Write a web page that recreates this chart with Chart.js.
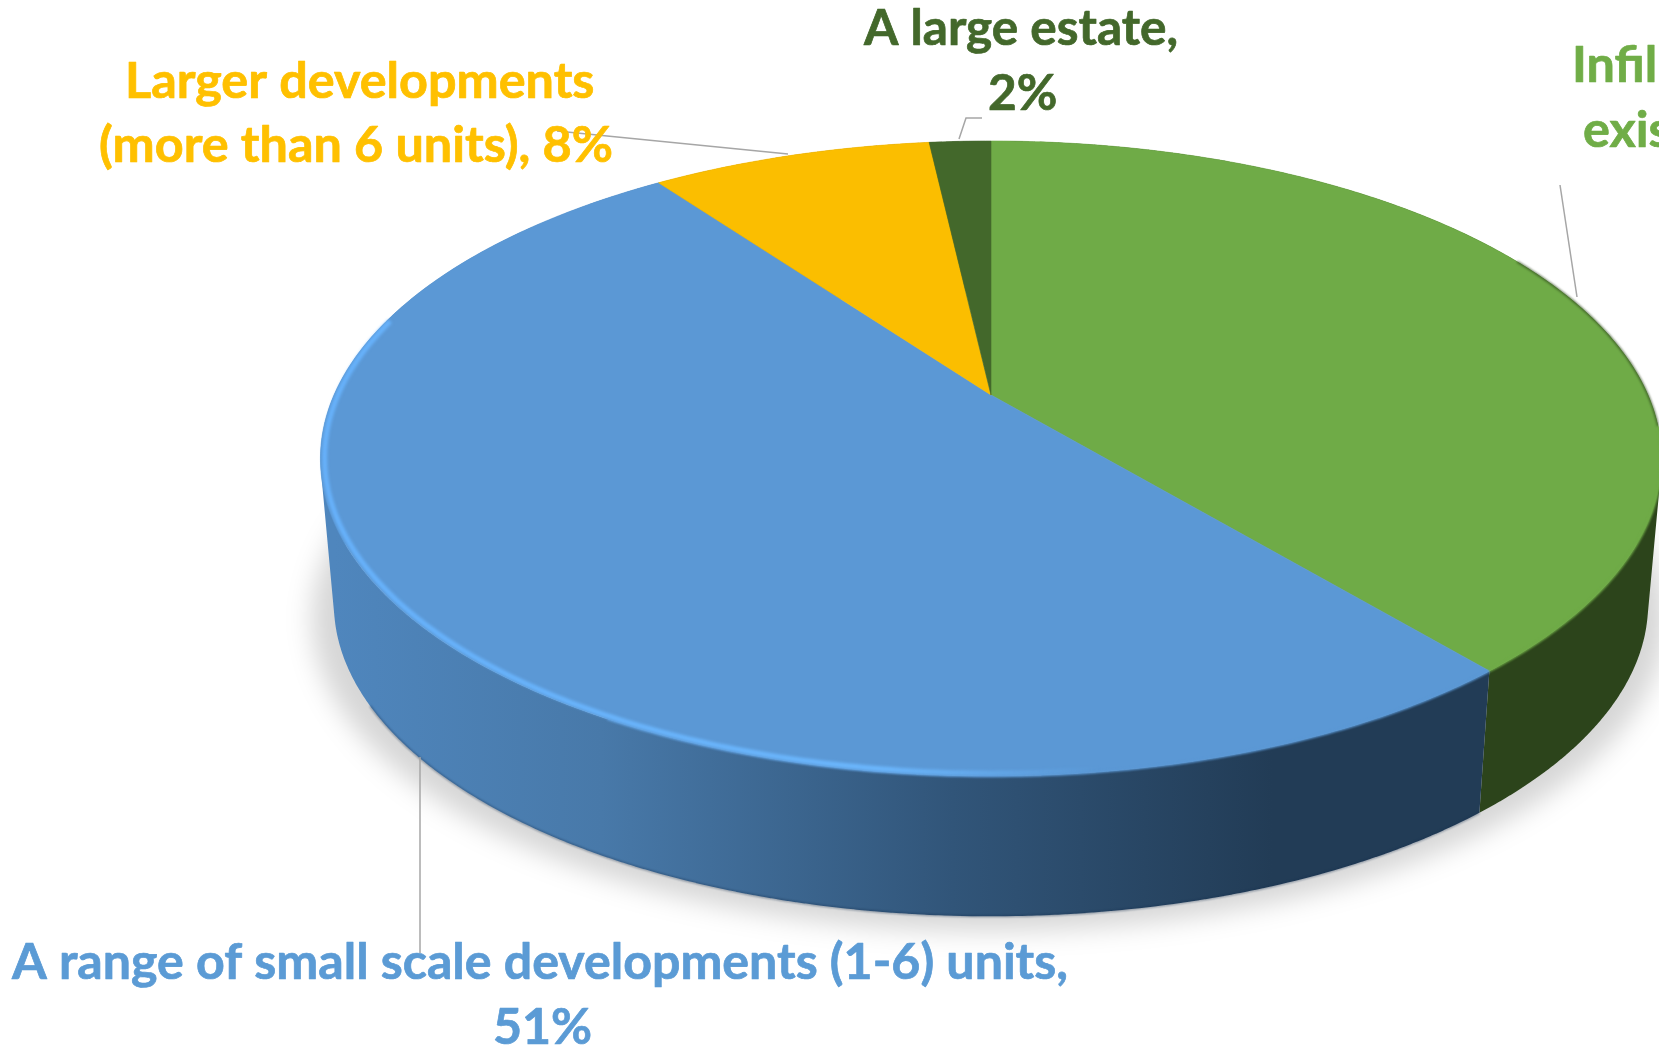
<!DOCTYPE html>
<html>
<head>
<meta charset="utf-8">
<style>html,body{margin:0;padding:0;background:#fff;overflow:hidden}canvas{display:block}</style>
<script src="https://cdn.jsdelivr.net/npm/chart.js@4"></script>
</head>
<body>
<canvas id="c" width="1659" height="1050"></canvas>
<script>
const categories = ['Infill within existing', 'A range of small scale developments (1-6) units', 'Larger developments (more than 6 units)', 'A large estate'];
const percentValues = [38.9, 51.1, 8.2, 1.8];
const topColours = ['#6FAB47', '#5B98D5', '#FBBE00', '#43682B'];
const labelColours = ['#70AD47', '#5B9BD5', '#FFC000', '#43682B'];
const labelLine1 = ['Infill within', 'A range of small scale developments (1-6) units,', 'Larger developments', 'A large estate,'];
const labelLine2 = ['existing, ', '', '(more than 6 units), ', ''];

// Projection of the tilted disc
const P = {cx: 991, A: 657, y0: 395, a: 304.8, k: -0.2, s: 0.98, sy: 0.985, Y0: 541};
function topPt(t, r = 1) {
  const u = r * Math.cos(t), v = r * Math.sin(t), d = 1 + P.k * v;
  return [P.cx + P.A * u / d, P.y0 + P.a * v / d];
}
function botPt(t) {
  const u = Math.cos(t), v = Math.sin(t), d = 1 + P.k * v;
  return [P.cx + P.s * P.A * u / d, P.Y0 + P.sy * P.a * v / d];
}
function rim(ctx, fn, a, b, move) {
  const n = Math.max(8, Math.ceil(Math.abs(b - a) * 90));
  for (let i = 0; i <= n; i++) {
    const p = fn(a + (b - a) * i / n);
    if (i === 0 && move) ctx.moveTo(p[0], p[1]); else ctx.lineTo(p[0], p[1]);
  }
}

const pie3d = {
  id: 'pie3d',
  beforeDatasetDraw(chart, args) {
    const ctx = chart.ctx, arcs = chart.getDatasetMeta(args.index).data;
    ctx.save();
    // soft ground shadow
    ctx.save();
    ctx.filter = 'blur(13px)';
    ctx.fillStyle = 'rgba(0,0,0,0.16)';
    ctx.beginPath();
    const full = Math.PI * 2;
    const n = 200;
    for (let i = 0; i <= n; i++) {
      const p = botPt(full * i / n);
      const x = P.cx + (p[0] - P.cx) * 1.03 - 2;
      const y = p[1] + 15;
      i ? ctx.lineTo(x, y) : ctx.moveTo(x, y);
    }
    ctx.closePath();
    ctx.fill();
    ctx.restore();

    // side wall, as quads so the silhouette between the rims is filled
    const blueWall = ctx.createLinearGradient(335, 0, 1400, 0);
    blueWall.addColorStop(0, '#4F86BD');
    blueWall.addColorStop(0.25, '#4879A9');
    blueWall.addColorStop(0.58, '#315579');
    blueWall.addColorStop(0.88, '#223C56');
    blueWall.addColorStop(1, '#223C56');
    const wallFills = ['#2C441B', blueWall, '#A07A00', '#2C441B'];
    [3, 2, 0, 1].forEach(i => {
      const arc = arcs[i];
      const steps = Math.ceil((arc.endAngle - arc.startAngle) * 90);
      const da = (arc.endAngle - arc.startAngle) / steps;
      ctx.fillStyle = wallFills[i];
      ctx.beginPath();
      for (let s = 0; s < steps; s++) {
        const t0 = arc.startAngle + s * da;
        const t1 = s === steps - 1 ? arc.endAngle : t0 + da * 1.25;
        const a = topPt(t0), b = topPt(t1), c = botPt(t1), e = botPt(t0);
        const orient = (b[0]-a[0])*(c[1]-a[1]) - (b[1]-a[1])*(c[0]-a[0]);
        ctx.moveTo(a[0], a[1]);
        if (orient >= 0) { ctx.lineTo(b[0], b[1]); ctx.lineTo(c[0], c[1]); ctx.lineTo(e[0], e[1]); }
        else { ctx.lineTo(e[0], e[1]); ctx.lineTo(c[0], c[1]); ctx.lineTo(b[0], b[1]); }
        ctx.closePath();
      }
      ctx.fill();
    });

    // darker soft line under the front of the wall
    ctx.save();
    ctx.filter = 'blur(0.8px)';
    ctx.strokeStyle = 'rgba(22,48,78,0.55)';
    ctx.lineWidth = 1.6;
    ctx.beginPath();
    rim(ctx, botPt, arcs[1].startAngle, arcs[1].startAngle + 1.75, true);
    ctx.stroke();
    ctx.restore();

    // top face
    const c0 = topPt(0, 0);
    arcs.forEach((arc, i) => {
      ctx.beginPath();
      ctx.moveTo(c0[0], c0[1]);
      rim(ctx, topPt, arc.startAngle, arc.endAngle, false);
      ctx.closePath();
      ctx.fillStyle = topColours[i];
      ctx.strokeStyle = topColours[i];
      ctx.lineWidth = 0.6;
      ctx.fill();
      ctx.stroke();
    });

    // soft edge on the front rim
    ctx.save();
    ctx.filter = 'blur(1.3px)';
    ctx.lineWidth = 2.5;
    ctx.strokeStyle = topColours[1];
    ctx.beginPath();
    rim(ctx, topPt, arcs[1].startAngle, arcs[1].startAngle + 1.2, true);
    ctx.stroke();
    ctx.strokeStyle = topColours[0];
    ctx.beginPath();
    rim(ctx, topPt, 0.1, arcs[0].endAngle, true);
    ctx.stroke();
    ctx.restore();

    // pale bevel on the left of the front rim
    const hl = ctx.createLinearGradient(320, 0, 1100, 0);
    hl.addColorStop(0, 'rgba(104,180,255,0.9)');
    hl.addColorStop(0.72, 'rgba(108,184,255,0.95)');
    hl.addColorStop(1, 'rgba(108,184,255,0)');
    ctx.save();
    ctx.filter = 'blur(1.6px)';
    ctx.strokeStyle = hl;
    ctx.lineWidth = 5;
    ctx.beginPath();
    rim(ctx, t => topPt(t, 0.994), 1.35, 3.4, true);
    ctx.stroke();
    ctx.restore();

    // dark soft line on the green rim
    ctx.save();
    ctx.filter = 'blur(1px)';
    ctx.strokeStyle = 'rgba(44,68,27,0.7)';
    ctx.lineWidth = 2;
    ctx.beginPath();
    rim(ctx, t => topPt(t, 1), -0.5, 0.1, true);
    ctx.stroke();
    ctx.restore();

    ctx.restore();
    return false;
  },
  afterDraw(chart) {
    const ctx = chart.ctx;
    ctx.save();
    // leader lines
    ctx.strokeStyle = '#A6A6A6';
    ctx.lineWidth = 1.5;
    [[[1560, 185], [1577, 297]], [[420, 757], [420, 953]], [[557, 131], [788, 154]], [[959, 139], [966, 118], [982, 118]]].forEach(pts => {
      ctx.beginPath();
      pts.forEach((p, i) => i ? ctx.lineTo(p[0], p[1]) : ctx.moveTo(p[0], p[1]));
      ctx.stroke();
    });
    // labels
    ctx.font = 'bold 49px Lato';
    ctx.textAlign = 'left';
    ctx.textBaseline = 'alphabetic';
    ctx.lineJoin = 'round';
    const shown = percentValues.map(v => Math.round(v) + '%');
    const wYellow = 514 / ctx.measureText(labelLine2[2] + shown[2]).width;
    const wBlue = 1056 / ctx.measureText(labelLine1[1]).width;
    const wDark = 314 / ctx.measureText(labelLine1[3]).width;
    const fits = [wYellow, wBlue, wYellow, wDark];
    const boxes = [
      [[1572, 82], [1583, 147]],
      [[12, 979], [493, 1044]],
      [[125, 98], [99, 162]],
      [[864, 45], [988, 110]]
    ];
    shown.forEach((pct, i) => {
      [labelLine1[i], labelLine2[i] + pct].forEach((t, j) => {
        ctx.save();
        ctx.translate(boxes[i][j][0], boxes[i][j][1]);
        ctx.scale(fits[i], 1);
        ctx.fillStyle = labelColours[i];
        ctx.strokeStyle = labelColours[i];
        ctx.lineWidth = 0.7;
        ctx.fillText(t, 0, 0);
        ctx.strokeText(t, 0, 0);
        ctx.restore();
      });
    });
    ctx.restore();
  }
};

new Chart(document.getElementById('c'), {
  type: 'pie',
  data: {labels: categories, datasets: [{data: percentValues, backgroundColor: topColours, borderWidth: 0}]},
  options: {
    responsive: false,
    animation: false,
    plugins: {legend: {display: false}, tooltip: {enabled: false}, title: {display: false}}
  },
  plugins: [pie3d]
});
</script>
</body>
</html>
